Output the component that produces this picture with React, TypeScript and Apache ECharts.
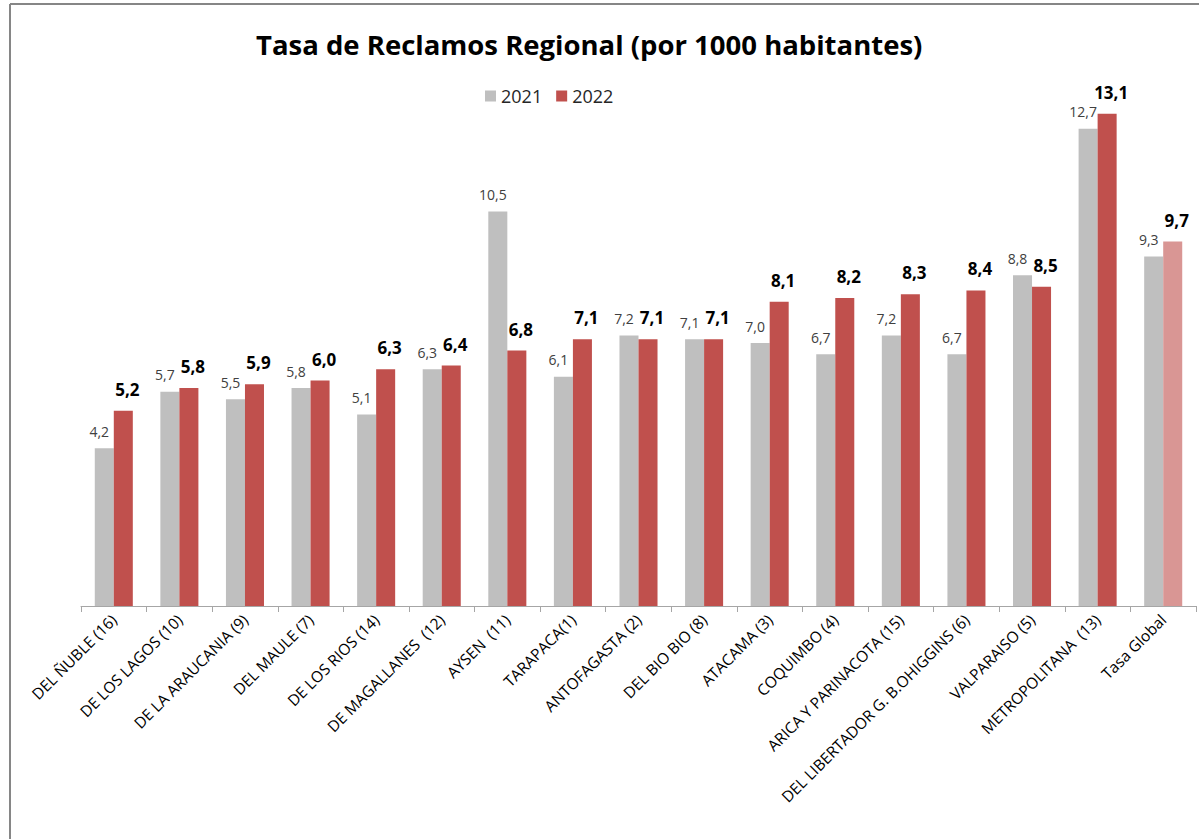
import React, { useEffect, useRef } from "react";
import * as echarts from "echarts";

const categories = [
  "DEL ÑUBLE (16)",
  "DE LOS LAGOS (10)",
  "DE LA ARAUCANIA (9)",
  "DEL MAULE (7)",
  "DE LOS RIOS (14)",
  "DE MAGALLANES  (12)",
  "AYSEN  (11)",
  "TARAPACA(1)",
  "ANTOFAGASTA (2)",
  "DEL BIO BIO (8)",
  "ATACAMA (3)",
  "COQUIMBO (4)",
  "ARICA Y PARINACOTA (15)",
  "DEL LIBERTADOR G. B.OHIGGINS (6)",
  "VALPARAISO (5)",
  "METROPOLITANA  (13)",
  "Tasa Global",
];
const values2021 = [4.2, 5.7, 5.5, 5.8, 5.1, 6.3, 10.5, 6.1, 7.2, 7.1, 7.0, 6.7, 7.2, 6.7, 8.8, 12.7, 9.3];
const values2022 = [5.2, 5.8, 5.9, 6.0, 6.3, 6.4, 6.8, 7.1, 7.1, 7.1, 8.1, 8.2, 8.3, 8.4, 8.5, 13.1, 9.7];
const seriesNames = ["2021", "2022"];
const title = "Tasa de Reclamos Regional (por 1000 habitantes)";

const fmt = (v: number) => v.toFixed(1).replace(".", ",");

export default function App() {
  const ref = useRef<HTMLDivElement>(null);
  useEffect(() => {
    if (!ref.current) return;
    const chart = echarts.init(ref.current, null, { renderer: "svg" });
    const font = "'Open Sans', 'Noto Sans', sans-serif";
    chart.setOption({
      animation: false,
      textStyle: { fontFamily: font },
      title: {
        text: title,
        left: 251,
        top: 25,
        textStyle: { fontFamily: font, fontSize: 27.5, fontWeight: "bold", color: "#000" },
      },
      legend: {
        data: seriesNames,
        top: 82,
        left: 480,
        itemWidth: 11,
        itemHeight: 11,
        itemGap: 14,
        icon: "rect",
        textStyle: { fontFamily: font, fontSize: 18, color: "#262626" },
      },
      grid: { left: 81, right: 3, top: 80, bottom: 233, containLabel: false },
      xAxis: {
        type: "category",
        data: categories,
        boundaryGap: true,
        axisLine: { lineStyle: { color: "#a6a6a6", width: 1 } },
        axisTick: { show: true, length: 6, alignWithLabel: false, lineStyle: { color: "#a6a6a6" } },
        axisLabel: {
          interval: 0,
          rotate: 45,
          margin: 11,
          fontFamily: font,
          fontSize: 15.5,
          color: "#000",
        },
      },
      yAxis: {
        type: "value",
        min: 0,
        max: 14,
        show: false,
        splitLine: { show: false },
      },
      series: [
        {
          name: seriesNames[0],
          type: "bar",
          data: values2021,
          barGap: "0%",
          barCategoryGap: "42%",
          itemStyle: { color: "#bfbfbf" },
          label: {
            show: true,
            position: "top",
            distance: 10,
            offset: [-5, 0],
            formatter: (p: any) => fmt(p.value),
            fontFamily: font,
            fontSize: 14,
            color: "#404040",
          },
        },
        {
          name: seriesNames[1],
          type: "bar",
          data: values2022.map((v, i) =>
            i === values2022.length - 1 ? { value: v, itemStyle: { color: "#d99694" } } : v
          ),
          barGap: "0%",
          barCategoryGap: "42%",
          itemStyle: { color: "#c0504d" },
          label: {
            show: true,
            position: "top",
            distance: 13,
            offset: [4, 0],
            formatter: (p: any) => fmt(p.value),
            fontFamily: font,
            fontSize: 17,
            fontWeight: "bold",
            color: "#000",
          },
        },
      ],
      graphic: [
        { type: "line", shape: { x1: 10, y1: 4, x2: 10, y2: 839 }, style: { stroke: "#868686", lineWidth: 2 } },
        { type: "line", shape: { x1: 10, y1: 4, x2: 1199, y2: 4 }, style: { stroke: "#868686", lineWidth: 2 } },
      ],
    });
    return () => chart.dispose();
  }, []);
  return (
    <div
      ref={ref}
      style={{ position: "fixed", left: 0, top: 0, width: 1199, height: 839, background: "#fff" }}
    />
  );
}
